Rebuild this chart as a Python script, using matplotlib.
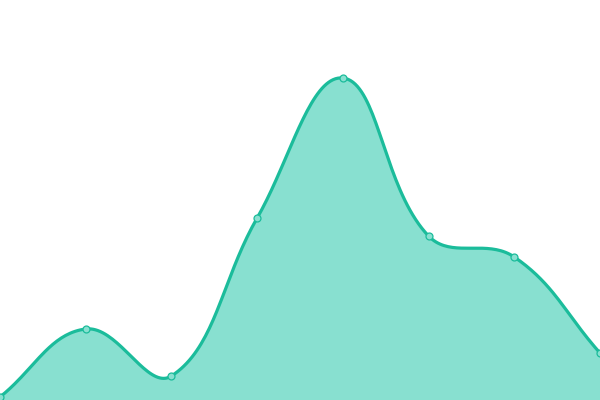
import numpy as np
import matplotlib
matplotlib.use("Agg")
import matplotlib.pyplot as plt

# chart values (y axis runs 0..100 over the full height)
labels = ["A", "B", "C", "D", "E", "F", "G", "H"]
values = [0.75, 17.75, 6, 45.5, 80.5, 41, 35.75, 11.75]

LINE = "#1bbc9b"
FILL = "#88e0d0"
TENSION = 0.4


def spline_path(P, t=TENSION, steps=40):
    """Distance weighted cardinal spline through pixel points P (n, 2)."""
    n = len(P)
    cp_prev = np.zeros_like(P)
    cp_next = np.zeros_like(P)
    for i in range(n):
        prev = P[max(i - 1, 0)]
        nxt = P[min(i + 1, n - 1)]
        d01 = np.hypot(*(P[i] - prev))
        d12 = np.hypot(*(nxt - P[i]))
        s = d01 + d12
        s01 = d01 / s if s else 0
        s12 = d12 / s if s else 0
        cp_prev[i] = P[i] - t * s01 * (nxt - prev)
        cp_next[i] = P[i] + t * s12 * (nxt - prev)
    u = np.linspace(0, 1, steps)[:, None]
    out = []
    for i in range(n - 1):
        p0, p1, p2, p3 = P[i], cp_next[i], cp_prev[i + 1], P[i + 1]
        seg = ((1 - u) ** 3) * p0 + 3 * ((1 - u) ** 2) * u * p1 \
            + 3 * (1 - u) * u ** 2 * p2 + u ** 3 * p3
        out.append(seg if i == 0 else seg[1:])
    return np.vstack(out)


fig = plt.figure(figsize=(6, 4), dpi=100)
ax = fig.add_axes([0, 0, 1, 1])
ax.set_xlim(0, len(values) - 1)
ax.set_ylim(0, 100)
ax.axis("off")

x = np.arange(len(values))
pix = ax.transData.transform(np.column_stack([x, values]))
curve = ax.transData.inverted().transform(spline_path(pix))

ax.fill_between(curve[:, 0], curve[:, 1], 0, color=FILL, lw=0, zorder=1)
ax.plot(curve[:, 0], curve[:, 1], color=LINE, lw=2.3, zorder=2,
        solid_capstyle="round")
ax.plot(x, values, "o", ms=5, mfc=FILL, mec=LINE, mew=0.9, zorder=3,
        clip_on=True)

fig.savefig("out.png", dpi=100)
